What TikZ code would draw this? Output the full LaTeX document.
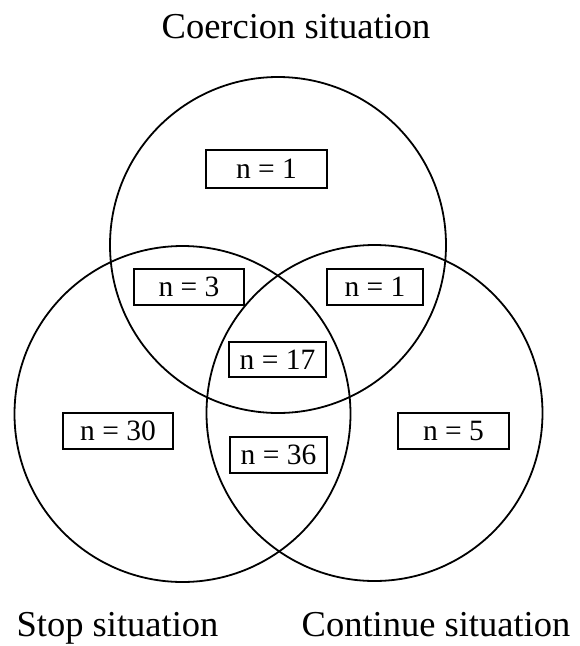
\documentclass[tikz,border=0pt]{standalone}
\usepackage{fontspec}
\setmainfont{Liberation Serif}
\begin{document}
\begin{tikzpicture}[x=1pt,y=-1pt,
  setcircle/.style={circle, draw, line width=1.8pt, minimum size=336pt, inner sep=0pt},
  countbox/.style={draw, line width=1.6pt, inner sep=0pt, minimum height=36pt,
    font=\fontsize{29.5}{32}\selectfont},
  setlabel/.style={inner sep=0pt, anchor=base, font=\fontsize{36.5}{40}\selectfont}]
\useasboundingbox (0,0) rectangle (580,646);
% circles
\node[setcircle] (coerce) at (278,245) {};
\node[setcircle] (stop) at (182.5,414) {};
\node[setcircle] (cont) at (374.5,413) {};
% count boxes
\node[countbox, minimum width=121pt, minimum height=38pt] (b1) at (266.5,169) {n = 1};
\node[countbox, minimum width=110pt] (b3) at (189,287) {n = 3};
\node[countbox, minimum width=96pt] (b1r) at (375,287) {n = 1};
\node[countbox, minimum width=97pt, minimum height=35pt] (b17) at (277.5,359.5) {n = 17};
\node[countbox, minimum width=97pt] (b36) at (278.5,455) {n = 36};
\node[countbox, minimum width=110pt] (b30) at (118,431) {n = 30};
\node[countbox, minimum width=111pt] (b5) at (453.5,431) {n = 5};
% set labels
\node[setlabel] (lc) at (296,38) {Coercion situation};
\node[setlabel] (ls) at (117.5,636) {Stop situation};
\node[setlabel] (lt) at (436,636) {Continue situation};
\end{tikzpicture}
\end{document}
